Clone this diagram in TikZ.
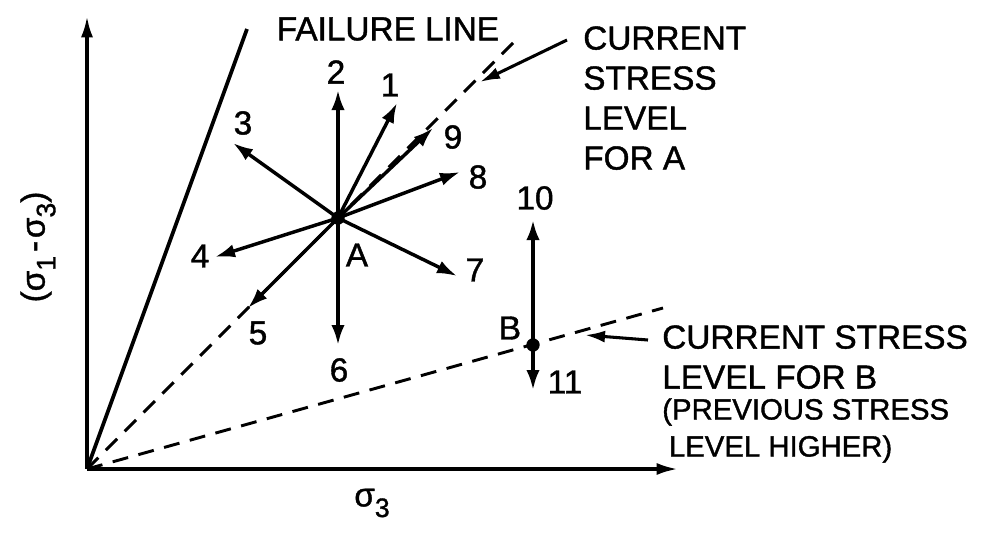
\documentclass[tikz,border=0pt]{standalone}
\usepackage{fontspec}
\setmainfont[FakeBold=1.2,AutoFakeBold=1.2]{Liberation Sans}
\usetikzlibrary{arrows.meta}
\begin{document}
\begin{tikzpicture}[x=0.75pt,y=-0.75pt,
  solidline/.style={line width=2.8pt},
  arr/.style={line width=2.6pt,-{Latex[length=15pt,width=10pt]}},
  axisarr/.style={line width=2.6pt,-{Latex[length=16pt,width=9pt]}},
  ptr/.style={line width=2.3pt,-{Latex[length=15pt,width=9pt]}},
  dsh/.style={line width=2.2pt,dash pattern=on 12pt off 8pt},
  lbl/.style={font=\fontsize{25}{30}\selectfont\bfseries,inner sep=0pt},
  smalllbl/.style={font=\fontsize{22}{27.75}\selectfont\bfseries,inner sep=0pt},
  dot/.style={circle,fill,inner sep=0pt,minimum size=10pt}]
\useasboundingbox (0,0) rectangle (1003,533);
% axes
\coordinate (O) at (87,469);
\coordinate (ytop) at (87,16);
\coordinate (xend) at (678,469);
\draw[axisarr] (O) -- (ytop);
\draw[axisarr] (O) -- (xend);
% failure line and stress paths
\coordinate (F) at (247,29);
\coordinate (DA) at (513,43);
\coordinate (DB) at (663,308);
\draw[solidline] (O) -- (F);
\draw[dsh] (O) -- (DA);
\draw[dsh] (O) -- (DB);
% points
\node[dot] (A) at (338,218) {};
\node[dot] (B) at (533,345) {};
% arrow tips
\coordinate (t1) at (397,103);
\coordinate (t2) at (338,90);
\coordinate (t3) at (233,143);
\coordinate (t4) at (215,257);
\coordinate (t5) at (248,308);
\coordinate (t6) at (338,345);
\coordinate (t7) at (457,276);
\coordinate (t8) at (460,172);
\coordinate (t9) at (433,128);
\coordinate (t10) at (533,220);
\coordinate (t11) at (533,390);
\foreach \k in {1,...,9} {\draw[arr] (A.center) -- (t\k);}
\draw[arr] (B.center) -- (t10);
\draw[arr] (B.center) -- (t11);
% labels
\node[lbl] (l1) at (390,85) {1};
\node[lbl] (l2) at (336,72) {2};
\node[lbl] (l3) at (243,123) {3};
\node[lbl] (l4) at (200,256) {4};
\node[lbl] (l5) at (258,333) {5};
\node[lbl] (l6) at (339,370) {6};
\node[lbl] (l7) at (475,270) {7};
\node[lbl] (l8) at (478,177) {8};
\node[lbl] (l9) at (453,137) {9};
\node[lbl] (lA) at (357,255) {A};
\node[lbl] (l10) at (535,198) {10};
\node[lbl] (lB) at (510,328) {B};
\node[lbl] (l11) at (565,382) {11};
% texts
\node[lbl] (fail) at (388,29) {FAILURE LINE};
\node[lbl,align=left,anchor=north west] (curA) at (583,26) {CURRENT\\STRESS\\LEVEL\\FOR A};
\node[lbl,align=left,anchor=north west] (curB) at (662,325) {CURRENT STRESS\\LEVEL FOR B};
\node[smalllbl,align=left,anchor=north west] (prevB) at (662,398) {(PREVIOUS STRESS\\\hspace*{5pt}LEVEL HIGHER)};
% pointers
\coordinate (pA) at (567,40);
\coordinate (qA) at (480,82);
\coordinate (pB) at (648,340);
\coordinate (qB) at (585,335);
\draw[ptr] (pA) -- (qA);
\draw[ptr] (pB) -- (qB);
% axis labels
\node[lbl] (xl) at (372,503) {σ\raisebox{-8pt}{\fontsize{20}{20}\selectfont\bfseries 3}};
\node[lbl,rotate=90] (yl) at (38,247) {(σ\raisebox{-8pt}{\fontsize{20}{20}\selectfont\bfseries 1}\kern3pt-\kern2pt σ\raisebox{-8pt}{\fontsize{20}{20}\selectfont\bfseries 3})};
\end{tikzpicture}
\end{document}
